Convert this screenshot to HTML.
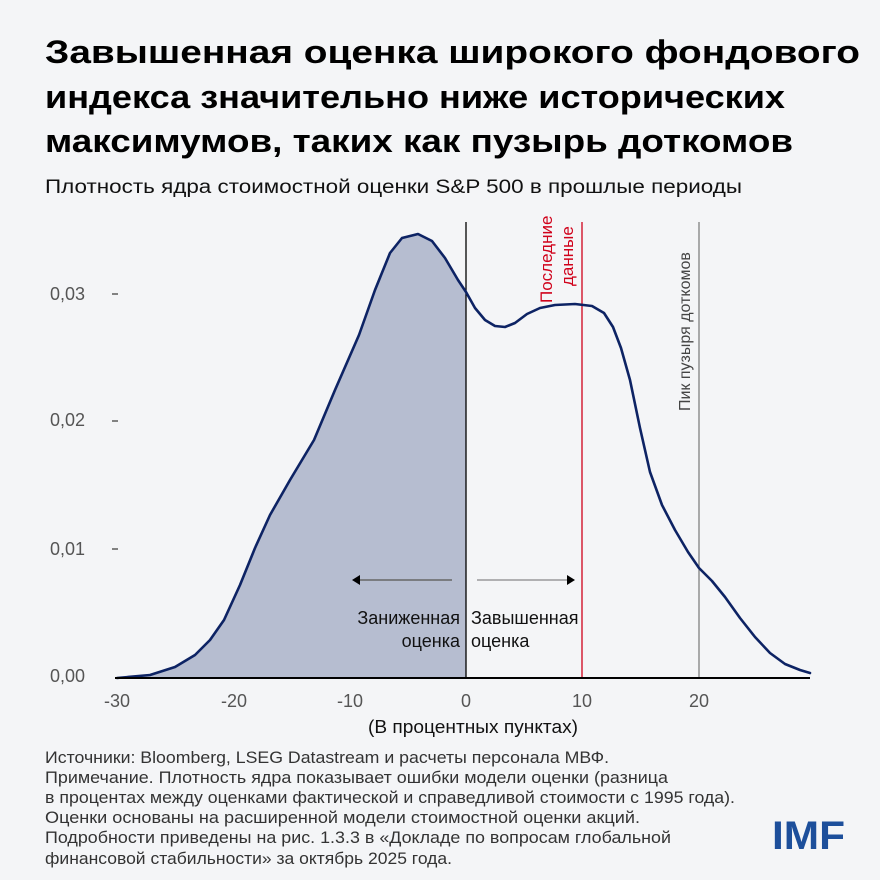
<!DOCTYPE html>
<html><head><meta charset="utf-8"><style>
html,body{margin:0;padding:0;background:#f4f5f7;}
svg{display:block;}
</style></head><body>
<svg width="880" height="880" viewBox="0 0 880 880" xmlns="http://www.w3.org/2000/svg" font-family="'Liberation Sans Narrow','Liberation Sans',sans-serif">
<rect width="880" height="880" fill="#f4f5f7"/>
<g font-family="'Liberation Sans',sans-serif" font-weight="bold" font-size="32" fill="#000">
<text x="45" y="63" textLength="815" lengthAdjust="spacingAndGlyphs">Завышенная оценка широкого фондового</text>
<text x="45" y="108" textLength="740" lengthAdjust="spacingAndGlyphs">индекса значительно ниже исторических</text>
<text x="45" y="152" textLength="748" lengthAdjust="spacingAndGlyphs">максимумов, таких как пузырь доткомов</text>
</g>
<text x="45" y="193" font-family="'Liberation Sans',sans-serif" font-size="19" fill="#111" textLength="697" lengthAdjust="spacingAndGlyphs">Плотность ядра стоимостной оценки S&amp;P 500 в прошлые периоды</text>

<path d="M117,678 L150,675 L175,667 L195,655 L210,640 L224,620 L240,585 L255,548 L270,515 L290,480 L314,440 L335,390 L359,335 L375,290 L390,253 L402,238 L418,234 L432,241 L445,258 L458,280 L466,292 L466,678 Z" fill="#b6bdd0"/>
<line x1="466" y1="222" x2="466" y2="678" stroke="#000" stroke-width="1.3"/>
<line x1="582" y1="222" x2="582" y2="678" stroke="#d0021b" stroke-width="1.3"/>
<line x1="699" y1="222" x2="699" y2="678" stroke="#777" stroke-width="1.2"/>
<path d="M117,678 L150,675 L175,667 L195,655 L210,640 L224,620 L240,585 L255,548 L270,515 L290,480 L314,440 L335,390 L359,335 L375,290 L390,253 L402,238 L418,234 L432,241 L445,258 L458,280 L466,292 L475,308 L485,320 L495,326 L505,327 L515,323 L527,314 L540,308 L555,305 L575,304 L592,306 L604,313 L613,327 L621,348 L630,380 L640,428 L650,472 L662,505 L675,530 L688,552 L699,568 L712,581 L725,597 L740,618 L755,637 L770,653 L785,664 L800,670 L810,673" fill="none" stroke="#0d2364" stroke-width="2.6" stroke-linejoin="round" stroke-linecap="round"/>
<line x1="115" y1="678" x2="810" y2="678" stroke="#000" stroke-width="2"/>

<g font-size="18" fill="#555">
<text x="50" y="300">0,03</text><text x="50" y="426">0,02</text><text x="50" y="555">0,01</text><text x="50" y="682">0,00</text>
</g>
<g stroke="#444" stroke-width="1.3">
<line x1="112" y1="294" x2="118" y2="294"/><line x1="112" y1="421" x2="118" y2="421"/><line x1="112" y1="549" x2="118" y2="549"/>
</g>
<g font-size="18" fill="#555" text-anchor="middle">
<text x="117" y="707">-30</text><text x="234" y="707">-20</text><text x="350" y="707">-10</text><text x="466" y="707">0</text><text x="582" y="707">10</text><text x="699" y="707">20</text>
</g>

<line x1="356" y1="580" x2="452" y2="580" stroke="#666" stroke-width="1.5"/>
<polygon points="352,580 360,575 360,585" fill="#000"/>
<line x1="477" y1="580" x2="570" y2="580" stroke="#888" stroke-width="1.2"/>
<polygon points="575,580 567,575 567,585" fill="#000"/>
<g font-size="18" fill="#111">
<text x="460" y="624" text-anchor="end">Заниженная</text>
<text x="460" y="647" text-anchor="end">оценка</text>
<text x="471" y="624">Завышенная</text>
<text x="471" y="647">оценка</text>
</g>
<g font-family="'Liberation Sans',sans-serif" font-size="17">
<text transform="translate(552,303) rotate(-90)" fill="#d0021b">Последние</text>
<text transform="translate(573,286) rotate(-90)" fill="#d0021b">данные</text>
<text transform="translate(690,411) rotate(-90)" fill="#444" font-size="16">Пик пузыря доткомов</text>
</g>
<text x="368" y="733" font-size="18" fill="#111" textLength="210" lengthAdjust="spacingAndGlyphs">(В процентных пунктах)</text>

<g font-size="17" fill="#333">
<text x="45" y="763" textLength="564" lengthAdjust="spacingAndGlyphs">Источники: Bloomberg, LSEG Datastream и расчеты персонала МВФ.</text>
<text x="45" y="783" textLength="623" lengthAdjust="spacingAndGlyphs">Примечание. Плотность ядра показывает ошибки модели оценки (разница</text>
<text x="45" y="803" textLength="690" lengthAdjust="spacingAndGlyphs">в процентах между оценками фактической и справедливой стоимости с 1995 года).</text>
<text x="45" y="823" textLength="595" lengthAdjust="spacingAndGlyphs">Оценки основаны на расширенной модели стоимостной оценки акций.</text>
<text x="45" y="843" textLength="626" lengthAdjust="spacingAndGlyphs">Подробности приведены на рис. 1.3.3 в «Докладе по вопросам глобальной</text>
<text x="45" y="864" textLength="407" lengthAdjust="spacingAndGlyphs">финансовой стабильности» за октябрь 2025 года.</text>
</g>
<text x="772" y="849" font-family="'Liberation Sans',sans-serif" font-weight="bold" font-size="40" fill="#1d4f9b" textLength="73" lengthAdjust="spacingAndGlyphs">IMF</text>
</svg>
</body></html>
